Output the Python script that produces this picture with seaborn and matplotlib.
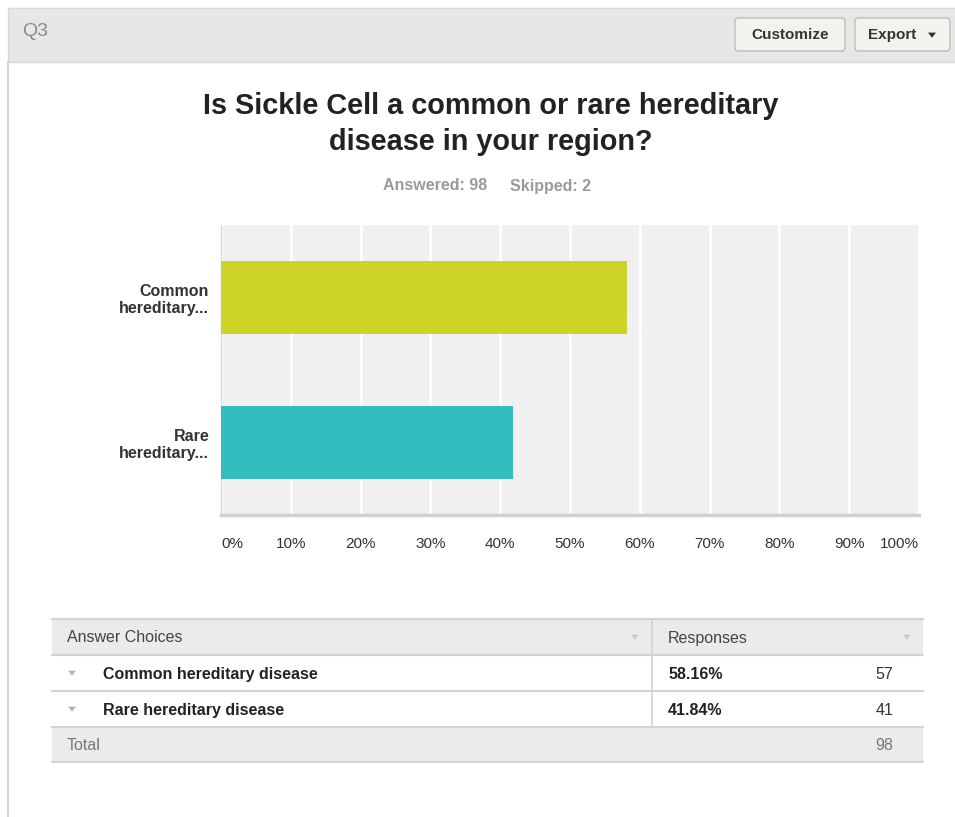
import matplotlib
matplotlib.use("Agg")
import matplotlib.pyplot as plt
from matplotlib.patches import Rectangle, FancyBboxPatch, Polygon
from matplotlib.lines import Line2D
import seaborn as sns
import pandas as pd

# Survey results
question = "Is Sickle Cell a common or rare hereditary\ndisease in your region?"
answered = 98
skipped = 2
choices = ["Common hereditary disease", "Rare hereditary disease"]
short_labels = ["Common\nhereditary...", "Rare\nhereditary..."]
percents = [58.16, 41.84]
counts = [57, 41]
bar_colors = ["#cdd327", "#33bdbe"]
x_ticks = [0, 10, 20, 30, 40, 50, 60, 70, 80, 90, 100]

W, H = 955, 817
sns.set_theme(style="white")
plt.rcParams["font.family"] = ["Liberation Sans", "DejaVu Sans"]

fig = plt.figure(figsize=(W / 100, H / 100), dpi=100)
fig.patch.set_facecolor("white")


def fx(x):
    return x / W


def fy(y):
    return 1 - y / H


def ftext(x, y, s, **kw):
    fig.text(fx(x), fy(y), s, **kw)


def frect(x0, y0, x1, y1, **kw):
    fig.add_artist(Rectangle((fx(x0), fy(y1)), fx(x1) - fx(x0), fy(y0) - fy(y1),
                             transform=fig.transFigure, **kw))


def fline(x0, y0, x1, y1, **kw):
    fig.add_artist(Line2D([fx(x0), fx(x1)], [fy(y0), fy(y1)],
                          transform=fig.transFigure, **kw))


def ftri(x, y, size=4, color="#b5b5b5"):
    fig.add_artist(Polygon([(fx(x - size), fy(y - size * 0.6)),
                            (fx(x + size), fy(y - size * 0.6)),
                            (fx(x), fy(y + size * 0.7))],
                           closed=True, transform=fig.transFigure,
                           facecolor=color, edgecolor="none"))


# Panel header
frect(8, 8, W + 2, 62, facecolor="#e7e7e5", edgecolor="#d8d8d6", linewidth=1)
fline(8, 62, 8, H, color="#d6d6d6", linewidth=1.5)
ftext(22, 32, "Q3", fontsize=14, color="#8a8a8a", va="center", ha="left")

for (bx0, bx1, label) in [(735, 845, "Customize"), (855, 950, "Export")]:
    fig.add_artist(FancyBboxPatch((fx(bx0), fy(51)), fx(bx1) - fx(bx0), fy(18) - fy(51),
                                  boxstyle="round,pad=0,rounding_size=0.004",
                                  transform=fig.transFigure,
                                  facecolor="#f2f2ef", edgecolor="#bdbdbb", linewidth=1))
ftext(790, 35, "Customize", fontsize=11, fontweight="bold", color="#333333",
      ha="center", va="center")
ftext(868, 35, "Export", fontsize=11, fontweight="bold", color="#333333",
      ha="left", va="center")
ftri(932, 35, size=4, color="#333333")

# Title and response summary
ftext(491, 124, question, fontsize=20.8, fontweight="bold", color="#222222",
      ha="center", va="center", linespacing=1.38)
ftext(435, 186, f"Answered: {answered}", fontsize=11.5, fontweight="bold",
      color="#9a9a9a", ha="center", va="center")
ftext(551, 186, f"Skipped: {skipped}", fontsize=11.5, fontweight="bold",
      color="#9a9a9a", ha="center", va="center")

# Bar chart
ax = fig.add_axes([fx(221), fy(515), fx(919) - fx(221), fy(225) - fy(515)])
ax.set_facecolor("#f0f0f0")
df = pd.DataFrame({"label": short_labels, "percent": percents})
sns.barplot(data=df, x="percent", y="label", hue="label", palette=bar_colors,
            orient="h", width=0.5, saturation=1, legend=False, ax=ax, zorder=3,
            edgecolor="none")
ax.set_xlim(0, 100)
ax.set_ylim(1.5, -0.5)
ax.set_xticks(x_ticks)
ax.xaxis.grid(True, color="white", linewidth=2, zorder=1)
ax.set_axisbelow(True)
ax.set_xlabel("")
ax.set_ylabel("")
for side in ["top", "right"]:
    ax.spines[side].set_visible(False)
ax.spines["left"].set_color("#d8d8d8")
ax.spines["left"].set_linewidth(1)
ax.spines["bottom"].set_color("#d0d0d0")
ax.spines["bottom"].set_linewidth(2.5)
ax.tick_params(axis="x", length=0, pad=16, labelsize=11, labelcolor="#333333")
ax.tick_params(axis="y", length=0, pad=8.5, labelsize=11.5, labelcolor="#333333")
ax.set_xticklabels([f"{t}%" for t in x_ticks])
xlabels = ax.get_xticklabels()
xlabels[0].set_horizontalalignment("left")
xlabels[-1].set_horizontalalignment("right")
for lab in ax.get_yticklabels():
    lab.set_fontweight("bold")
    lab.set_multialignment("right")
    lab.set_linespacing(1.15)

# Response table
tx0, tx1, tcol = 52, 923, 652
rows_y = [619, 655, 691, 727, 762]
fs = 11.5
frect(tx0, rows_y[0], tx1, rows_y[1], facecolor="#ebebea", edgecolor="none")
frect(tx0, rows_y[3], tx1, rows_y[4], facecolor="#ebebea", edgecolor="none")
for y in rows_y:
    fline(tx0, y, tx1, y, color="#d2d2d2", linewidth=1.5)
fline(tcol, rows_y[0], tcol, rows_y[3], color="#d2d2d2", linewidth=1.2)

ftext(67, 638, "Answer Choices", fontsize=fs, color="#444444", va="center")
ftext(668, 638, "Responses", fontsize=fs, color="#444444", va="center")
ftri(635, 637, size=4, color="#c8c8c8")
ftri(907, 637, size=4, color="#c8c8c8")

for i, (name, pct, cnt) in enumerate(zip(choices, percents, counts)):
    yc = (rows_y[i + 1] + rows_y[i + 2]) / 2
    ftri(72, yc, size=4, color="#b5b5b5")
    ftext(103, yc + 1.5, name, fontsize=fs, fontweight="bold", color="#222222", va="center")
    ftext(668, yc + 1.5, f"{pct:.2f}%", fontsize=fs, fontweight="bold", color="#222222",
          va="center")
    ftext(893, yc + 1.5, str(cnt), fontsize=fs, color="#333333", va="center", ha="right")

ytot = (rows_y[3] + rows_y[4]) / 2
ftext(67, ytot + 1.5, "Total", fontsize=fs, color="#777777", va="center")
ftext(893, ytot + 1.5, str(sum(counts)), fontsize=fs, color="#777777", va="center", ha="right")

fig.savefig("out.png", dpi=100, facecolor="white")
